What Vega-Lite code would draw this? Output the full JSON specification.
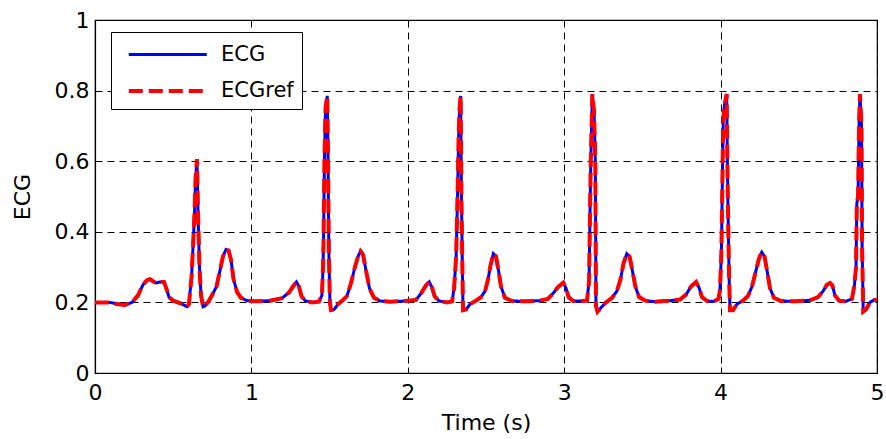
{
  "$schema": "https://vega.github.io/schema/vega-lite/v6.json",
  "width": 782,
  "height": 353,
  "autosize": {"type": "none"},
  "padding": {"left": 95, "top": 20, "right": 9, "bottom": 66},
  "background": "white",
  "config": {
    "view": {"stroke": "black", "strokeWidth": 1.2},
    "font": "DejaVu Sans"
  },
  "data": {
    "values": [
      {"t": 0.000, "ECG": 0.200, "ECGref": 0.200},
      {"t": 0.096, "ECG": 0.200, "ECGref": 0.200},
      {"t": 0.147, "ECG": 0.195, "ECGref": 0.195},
      {"t": 0.192, "ECG": 0.193, "ECGref": 0.193},
      {"t": 0.237, "ECG": 0.200, "ECGref": 0.200},
      {"t": 0.275, "ECG": 0.220, "ECGref": 0.220},
      {"t": 0.307, "ECG": 0.250, "ECGref": 0.250},
      {"t": 0.332, "ECG": 0.263, "ECGref": 0.263},
      {"t": 0.352, "ECG": 0.266, "ECGref": 0.266},
      {"t": 0.371, "ECG": 0.260, "ECGref": 0.260},
      {"t": 0.390, "ECG": 0.255, "ECGref": 0.255},
      {"t": 0.416, "ECG": 0.258, "ECGref": 0.258},
      {"t": 0.441, "ECG": 0.258, "ECGref": 0.258},
      {"t": 0.460, "ECG": 0.235, "ECGref": 0.235},
      {"t": 0.473, "ECG": 0.215, "ECGref": 0.215},
      {"t": 0.499, "ECG": 0.205, "ECGref": 0.205},
      {"t": 0.543, "ECG": 0.198, "ECGref": 0.198},
      {"t": 0.588, "ECG": 0.188, "ECGref": 0.188},
      {"t": 0.601, "ECG": 0.195, "ECGref": 0.195},
      {"t": 0.607, "ECG": 0.226, "ECGref": 0.226},
      {"t": 0.617, "ECG": 0.270, "ECGref": 0.270},
      {"t": 0.627, "ECG": 0.360, "ECGref": 0.360},
      {"t": 0.636, "ECG": 0.450, "ECGref": 0.450},
      {"t": 0.643, "ECG": 0.550, "ECGref": 0.550},
      {"t": 0.652, "ECG": 0.606, "ECGref": 0.606},
      {"t": 0.659, "ECG": 0.450, "ECGref": 0.450},
      {"t": 0.668, "ECG": 0.300, "ECGref": 0.300},
      {"t": 0.678, "ECG": 0.220, "ECGref": 0.220},
      {"t": 0.691, "ECG": 0.188, "ECGref": 0.188},
      {"t": 0.703, "ECG": 0.190, "ECGref": 0.190},
      {"t": 0.722, "ECG": 0.200, "ECGref": 0.200},
      {"t": 0.748, "ECG": 0.220, "ECGref": 0.220},
      {"t": 0.777, "ECG": 0.245, "ECGref": 0.245},
      {"t": 0.799, "ECG": 0.290, "ECGref": 0.290},
      {"t": 0.818, "ECG": 0.330, "ECGref": 0.330},
      {"t": 0.838, "ECG": 0.350, "ECGref": 0.350},
      {"t": 0.854, "ECG": 0.347, "ECGref": 0.347},
      {"t": 0.870, "ECG": 0.320, "ECGref": 0.320},
      {"t": 0.886, "ECG": 0.265, "ECGref": 0.265},
      {"t": 0.908, "ECG": 0.230, "ECGref": 0.230},
      {"t": 0.933, "ECG": 0.213, "ECGref": 0.213},
      {"t": 0.972, "ECG": 0.205, "ECGref": 0.205},
      {"t": 1.023, "ECG": 0.203, "ECGref": 0.203},
      {"t": 1.119, "ECG": 0.205, "ECGref": 0.205},
      {"t": 1.196, "ECG": 0.212, "ECGref": 0.212},
      {"t": 1.240, "ECG": 0.228, "ECGref": 0.228},
      {"t": 1.266, "ECG": 0.245, "ECGref": 0.245},
      {"t": 1.288, "ECG": 0.258, "ECGref": 0.258},
      {"t": 1.304, "ECG": 0.245, "ECGref": 0.245},
      {"t": 1.320, "ECG": 0.218, "ECGref": 0.218},
      {"t": 1.343, "ECG": 0.205, "ECGref": 0.205},
      {"t": 1.387, "ECG": 0.200, "ECGref": 0.200},
      {"t": 1.432, "ECG": 0.202, "ECGref": 0.202},
      {"t": 1.451, "ECG": 0.220, "ECGref": 0.220},
      {"t": 1.458, "ECG": 0.300, "ECGref": 0.300},
      {"t": 1.461, "ECG": 0.370, "ECGref": 0.370},
      {"t": 1.467, "ECG": 0.600, "ECGref": 0.600},
      {"t": 1.474, "ECG": 0.750, "ECGref": 0.750},
      {"t": 1.485, "ECG": 0.785, "ECGref": 0.785},
      {"t": 1.490, "ECG": 0.620, "ECGref": 0.620},
      {"t": 1.495, "ECG": 0.350, "ECGref": 0.350},
      {"t": 1.502, "ECG": 0.200, "ECGref": 0.200},
      {"t": 1.509, "ECG": 0.178, "ECGref": 0.178},
      {"t": 1.529, "ECG": 0.180, "ECGref": 0.180},
      {"t": 1.554, "ECG": 0.195, "ECGref": 0.195},
      {"t": 1.586, "ECG": 0.207, "ECGref": 0.207},
      {"t": 1.611, "ECG": 0.218, "ECGref": 0.218},
      {"t": 1.637, "ECG": 0.255, "ECGref": 0.255},
      {"t": 1.662, "ECG": 0.300, "ECGref": 0.300},
      {"t": 1.682, "ECG": 0.330, "ECGref": 0.330},
      {"t": 1.698, "ECG": 0.345, "ECGref": 0.345},
      {"t": 1.714, "ECG": 0.335, "ECGref": 0.335},
      {"t": 1.733, "ECG": 0.290, "ECGref": 0.290},
      {"t": 1.755, "ECG": 0.240, "ECGref": 0.240},
      {"t": 1.784, "ECG": 0.213, "ECGref": 0.213},
      {"t": 1.822, "ECG": 0.204, "ECGref": 0.204},
      {"t": 1.886, "ECG": 0.202, "ECGref": 0.202},
      {"t": 1.982, "ECG": 0.204, "ECGref": 0.204},
      {"t": 2.052, "ECG": 0.207, "ECGref": 0.207},
      {"t": 2.084, "ECG": 0.225, "ECGref": 0.225},
      {"t": 2.116, "ECG": 0.248, "ECGref": 0.248},
      {"t": 2.137, "ECG": 0.258, "ECGref": 0.258},
      {"t": 2.155, "ECG": 0.242, "ECGref": 0.242},
      {"t": 2.171, "ECG": 0.218, "ECGref": 0.218},
      {"t": 2.199, "ECG": 0.204, "ECGref": 0.204},
      {"t": 2.251, "ECG": 0.200, "ECGref": 0.200},
      {"t": 2.283, "ECG": 0.203, "ECGref": 0.203},
      {"t": 2.296, "ECG": 0.240, "ECGref": 0.240},
      {"t": 2.309, "ECG": 0.330, "ECGref": 0.330},
      {"t": 2.318, "ECG": 0.500, "ECGref": 0.500},
      {"t": 2.325, "ECG": 0.670, "ECGref": 0.670},
      {"t": 2.331, "ECG": 0.750, "ECGref": 0.750},
      {"t": 2.338, "ECG": 0.785, "ECGref": 0.785},
      {"t": 2.343, "ECG": 0.500, "ECGref": 0.500},
      {"t": 2.349, "ECG": 0.300, "ECGref": 0.300},
      {"t": 2.353, "ECG": 0.178, "ECGref": 0.178},
      {"t": 2.373, "ECG": 0.180, "ECGref": 0.180},
      {"t": 2.398, "ECG": 0.195, "ECGref": 0.195},
      {"t": 2.436, "ECG": 0.205, "ECGref": 0.205},
      {"t": 2.468, "ECG": 0.215, "ECGref": 0.215},
      {"t": 2.494, "ECG": 0.232, "ECGref": 0.232},
      {"t": 2.513, "ECG": 0.265, "ECGref": 0.265},
      {"t": 2.529, "ECG": 0.305, "ECGref": 0.305},
      {"t": 2.547, "ECG": 0.338, "ECGref": 0.338},
      {"t": 2.564, "ECG": 0.330, "ECGref": 0.330},
      {"t": 2.580, "ECG": 0.290, "ECGref": 0.290},
      {"t": 2.596, "ECG": 0.245, "ECGref": 0.245},
      {"t": 2.621, "ECG": 0.213, "ECGref": 0.213},
      {"t": 2.666, "ECG": 0.204, "ECGref": 0.204},
      {"t": 2.749, "ECG": 0.203, "ECGref": 0.203},
      {"t": 2.845, "ECG": 0.205, "ECGref": 0.205},
      {"t": 2.896, "ECG": 0.210, "ECGref": 0.210},
      {"t": 2.928, "ECG": 0.225, "ECGref": 0.225},
      {"t": 2.960, "ECG": 0.243, "ECGref": 0.243},
      {"t": 2.994, "ECG": 0.256, "ECGref": 0.256},
      {"t": 3.012, "ECG": 0.240, "ECGref": 0.240},
      {"t": 3.028, "ECG": 0.215, "ECGref": 0.215},
      {"t": 3.056, "ECG": 0.204, "ECGref": 0.204},
      {"t": 3.101, "ECG": 0.204, "ECGref": 0.204},
      {"t": 3.146, "ECG": 0.205, "ECGref": 0.205},
      {"t": 3.159, "ECG": 0.260, "ECGref": 0.260},
      {"t": 3.165, "ECG": 0.450, "ECGref": 0.450},
      {"t": 3.170, "ECG": 0.600, "ECGref": 0.600},
      {"t": 3.180, "ECG": 0.790, "ECGref": 0.790},
      {"t": 3.191, "ECG": 0.740, "ECGref": 0.740},
      {"t": 3.199, "ECG": 0.600, "ECGref": 0.600},
      {"t": 3.203, "ECG": 0.190, "ECGref": 0.190},
      {"t": 3.213, "ECG": 0.174, "ECGref": 0.174},
      {"t": 3.235, "ECG": 0.185, "ECGref": 0.185},
      {"t": 3.267, "ECG": 0.200, "ECGref": 0.200},
      {"t": 3.306, "ECG": 0.213, "ECGref": 0.213},
      {"t": 3.337, "ECG": 0.232, "ECGref": 0.232},
      {"t": 3.360, "ECG": 0.265, "ECGref": 0.265},
      {"t": 3.379, "ECG": 0.310, "ECGref": 0.310},
      {"t": 3.400, "ECG": 0.338, "ECGref": 0.338},
      {"t": 3.418, "ECG": 0.330, "ECGref": 0.330},
      {"t": 3.436, "ECG": 0.290, "ECGref": 0.290},
      {"t": 3.455, "ECG": 0.245, "ECGref": 0.245},
      {"t": 3.479, "ECG": 0.215, "ECGref": 0.215},
      {"t": 3.518, "ECG": 0.205, "ECGref": 0.205},
      {"t": 3.581, "ECG": 0.202, "ECGref": 0.202},
      {"t": 3.677, "ECG": 0.205, "ECGref": 0.205},
      {"t": 3.741, "ECG": 0.208, "ECGref": 0.208},
      {"t": 3.779, "ECG": 0.222, "ECGref": 0.222},
      {"t": 3.811, "ECG": 0.245, "ECGref": 0.245},
      {"t": 3.843, "ECG": 0.258, "ECGref": 0.258},
      {"t": 3.862, "ECG": 0.242, "ECGref": 0.242},
      {"t": 3.881, "ECG": 0.215, "ECGref": 0.215},
      {"t": 3.913, "ECG": 0.204, "ECGref": 0.204},
      {"t": 3.958, "ECG": 0.203, "ECGref": 0.203},
      {"t": 3.987, "ECG": 0.210, "ECGref": 0.210},
      {"t": 3.996, "ECG": 0.235, "ECGref": 0.235},
      {"t": 4.005, "ECG": 0.340, "ECGref": 0.340},
      {"t": 4.017, "ECG": 0.720, "ECGref": 0.720},
      {"t": 4.025, "ECG": 0.760, "ECGref": 0.760},
      {"t": 4.039, "ECG": 0.790, "ECGref": 0.790},
      {"t": 4.046, "ECG": 0.500, "ECGref": 0.500},
      {"t": 4.054, "ECG": 0.280, "ECGref": 0.280},
      {"t": 4.060, "ECG": 0.178, "ECGref": 0.178},
      {"t": 4.079, "ECG": 0.178, "ECGref": 0.178},
      {"t": 4.105, "ECG": 0.195, "ECGref": 0.195},
      {"t": 4.143, "ECG": 0.205, "ECGref": 0.205},
      {"t": 4.175, "ECG": 0.218, "ECGref": 0.218},
      {"t": 4.201, "ECG": 0.245, "ECGref": 0.245},
      {"t": 4.226, "ECG": 0.290, "ECGref": 0.290},
      {"t": 4.246, "ECG": 0.325, "ECGref": 0.325},
      {"t": 4.263, "ECG": 0.342, "ECGref": 0.342},
      {"t": 4.281, "ECG": 0.330, "ECGref": 0.330},
      {"t": 4.297, "ECG": 0.290, "ECGref": 0.290},
      {"t": 4.316, "ECG": 0.240, "ECGref": 0.240},
      {"t": 4.341, "ECG": 0.213, "ECGref": 0.213},
      {"t": 4.386, "ECG": 0.204, "ECGref": 0.204},
      {"t": 4.476, "ECG": 0.203, "ECGref": 0.203},
      {"t": 4.572, "ECG": 0.206, "ECGref": 0.206},
      {"t": 4.623, "ECG": 0.215, "ECGref": 0.215},
      {"t": 4.655, "ECG": 0.232, "ECGref": 0.232},
      {"t": 4.680, "ECG": 0.250, "ECGref": 0.250},
      {"t": 4.700, "ECG": 0.255, "ECGref": 0.255},
      {"t": 4.715, "ECG": 0.248, "ECGref": 0.248},
      {"t": 4.731, "ECG": 0.220, "ECGref": 0.220},
      {"t": 4.757, "ECG": 0.205, "ECGref": 0.205},
      {"t": 4.801, "ECG": 0.203, "ECGref": 0.203},
      {"t": 4.840, "ECG": 0.210, "ECGref": 0.210},
      {"t": 4.856, "ECG": 0.250, "ECGref": 0.250},
      {"t": 4.866, "ECG": 0.300, "ECGref": 0.300},
      {"t": 4.871, "ECG": 0.480, "ECGref": 0.480},
      {"t": 4.879, "ECG": 0.500, "ECGref": 0.500},
      {"t": 4.885, "ECG": 0.700, "ECGref": 0.700},
      {"t": 4.891, "ECG": 0.790, "ECGref": 0.790},
      {"t": 4.901, "ECG": 0.700, "ECGref": 0.700},
      {"t": 4.905, "ECG": 0.350, "ECGref": 0.350},
      {"t": 4.912, "ECG": 0.174, "ECGref": 0.174},
      {"t": 4.930, "ECG": 0.180, "ECGref": 0.180},
      {"t": 4.955, "ECG": 0.200, "ECGref": 0.200},
      {"t": 4.981, "ECG": 0.207, "ECGref": 0.207},
      {"t": 5.000, "ECG": 0.207, "ECGref": 0.207}
    ]
  },
  "transform": [{"fold": ["ECG", "ECGref"], "as": ["series", "value"]}],
  "mark": {"type": "line", "interpolate": "linear", "clip": true},
  "encoding": {
    "x": {
      "field": "t",
      "type": "quantitative",
      "scale": {"domain": [0, 5], "nice": false, "zero": false},
      "axis": {
        "title": "Time (s)",
        "values": [0, 1, 2, 3, 4, 5],
        "format": "d",
        "labelFlush": false,
        "grid": true,
        "gridColor": "black",
        "gridDash": [7, 5],
        "gridWidth": 1,
        "domainColor": "black",
        "domainWidth": 1.2,
        "tickColor": "black",
        "tickSize": -6,
        "labelFontSize": 22,
        "labelColor": "black",
        "labelPadding": 15,
        "titleFontSize": 22,
        "titleFontWeight": "normal",
        "titleColor": "black",
        "titlePadding": 9
      }
    },
    "y": {
      "field": "value",
      "type": "quantitative",
      "scale": {"domain": [0, 1], "nice": false},
      "axis": {
        "title": "ECG",
        "values": [0, 0.2, 0.4, 0.6, 0.8, 1],
        "format": ".1~f",
        "labelFlush": false,
        "grid": true,
        "gridColor": "black",
        "gridDash": [7, 5],
        "gridWidth": 1,
        "domainColor": "black",
        "domainWidth": 1.2,
        "tickColor": "black",
        "tickSize": -6,
        "labelFontSize": 22,
        "labelColor": "black",
        "labelPadding": 12,
        "titleFontSize": 22,
        "titleFontWeight": "normal",
        "titleColor": "black",
        "titlePadding": 20
      }
    },
    "color": {
      "field": "series",
      "type": "nominal",
      "scale": {"domain": ["ECG", "ECGref"], "range": ["#0000ff", "#ff0000"]},
      "legend": {
        "title": null,
        "orient": "none",
        "legendX": 16,
        "legendY": 12,
        "fillColor": "white",
        "strokeColor": "black",
        "padding": 8,
        "rowPadding": 11,
        "symbolType": "M-0.4,0H5.6",
        "symbolSize": 676,
        "symbolStrokeWidth": 3.5,
        "labelFontSize": 21,
        "labelColor": "black",
        "labelOffset": 72
      }
    },
    "strokeDash": {
      "field": "series",
      "type": "nominal",
      "scale": {"domain": ["ECG", "ECGref"], "range": [[1, 0], [14, 6]]},
      "legend": {
        "title": null,
        "orient": "none",
        "legendX": 16,
        "legendY": 12,
        "fillColor": "white",
        "strokeColor": "black",
        "padding": 8,
        "rowPadding": 11,
        "symbolType": "M-0.4,0H5.6",
        "symbolSize": 676,
        "symbolStrokeWidth": 3.5,
        "labelFontSize": 21,
        "labelColor": "black",
        "labelOffset": 72
      }
    },
    "strokeWidth": {
      "field": "series",
      "type": "nominal",
      "scale": {"domain": ["ECG", "ECGref"], "range": [3, 4]},
      "legend": null
    }
  }
}
